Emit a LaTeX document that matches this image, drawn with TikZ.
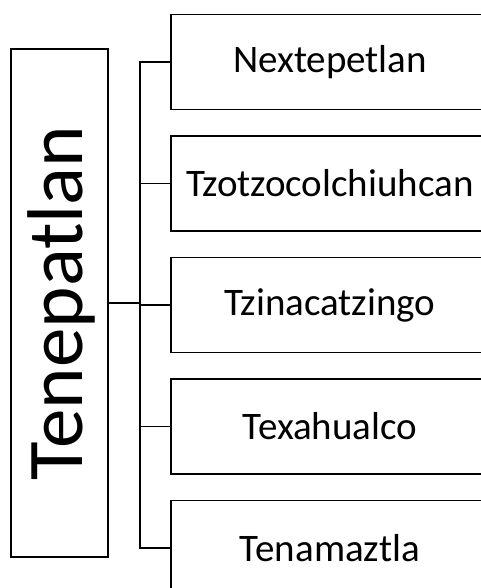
\documentclass[tikz,border=0pt]{standalone}
\usepackage{fontspec}
\setmainfont{Carlito}
\usetikzlibrary{positioning}

\begin{document}
\begin{tikzpicture}[
    x=1pt, y=1pt,
    node distance=25pt,
    root/.style={rectangle, draw, line width=1.5pt, minimum width=97pt, minimum height=508pt, inner sep=0pt},
    leaf/.style={rectangle, draw, line width=1.5pt, minimum width=318pt, minimum height=95pt, inner sep=0pt, font=\fontsize{39}{42}\selectfont},
    link/.style={line width=1.5pt},
]
\useasboundingbox (0,0) rectangle (481,588);
\clip (0,0) rectangle (481,588);

% Root
\node[root] (top) at (59.5,285) {\hspace*{4pt}\rotatebox{90}{\fontsize{79}{82}\selectfont Tenepatlan}};

% Leaves
\node[leaf] (n1) at (330,526) {Nextepetlan};
\node[leaf, below=of n1] (n2) {Tzotzocolchiuhcan};
\node[leaf, below=of n2] (n3) {Tzinacatzingo};
\node[leaf, below=of n3] (n4) {Texahualco};
\node[leaf, below=of n4] (n5) {Tenamaztla};

% Bus
\coordinate (bus) at (140,0);
\draw[link] (top.east) -- (top.east -| bus);
\draw[link] (n1.west) -- (n1.west -| bus) -- (n5.west -| bus) -- (n5.west);
\foreach \i in {2,3,4}
  \draw[link] (n\i.west) -- (n\i.west -| bus);

\end{tikzpicture}
\end{document}
